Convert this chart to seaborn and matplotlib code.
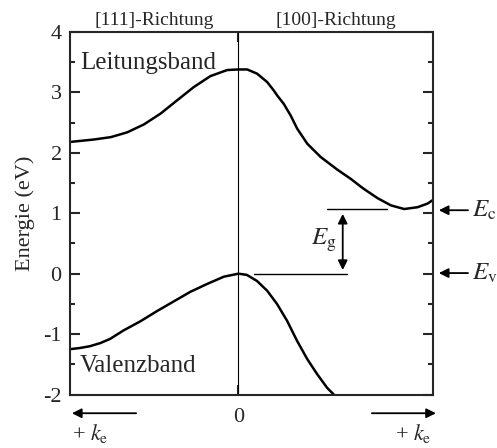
import numpy as np
import pandas as pd
import seaborn as sns
import matplotlib.pyplot as plt
from matplotlib.ticker import MultipleLocator

# band structure (k in units of 2pi/a, [111] negative side)
k_cond = [-0.866, -0.744, -0.656, -0.571, -0.486, -0.400, -0.315, -0.229, -0.144, -0.058, 0.0,
          0.045, 0.096, 0.148, 0.182, 0.199, 0.233, 0.268, 0.302, 0.354, 0.423, 0.509, 0.577,
          0.629, 0.646, 0.715, 0.784, 0.852, 0.921, 0.972, 1.0]
e_cond = [2.18, 2.22, 2.26, 2.34, 2.47, 2.65, 2.87, 3.09, 3.27, 3.37, 3.38,
          3.38, 3.31, 3.17, 3.03, 2.95, 2.81, 2.62, 2.40, 2.15, 1.93, 1.72, 1.57,
          1.44, 1.40, 1.25, 1.13, 1.07, 1.10, 1.16, 1.22]

k_val = [-0.866, -0.814, -0.763, -0.711, -0.660, -0.591, -0.505, -0.419, -0.333, -0.247, -0.161,
         -0.075, 0.0, 0.043, 0.095, 0.147, 0.198, 0.250, 0.301, 0.353, 0.404, 0.456, 0.49]
e_val = [-1.25, -1.23, -1.20, -1.15, -1.08, -0.94, -0.79, -0.62, -0.46, -0.30, -0.17,
         -0.05, 0.0, -0.02, -0.12, -0.28, -0.50, -0.78, -1.11, -1.41, -1.66, -1.89, -2.0]

e_c = 1.07
e_v = 0.0
directions = ["[111]-Richtung", "[100]-Richtung"]
k_edge = [-0.866, 1.0]

sns.set_style("ticks")
plt.rcParams['font.family'] = ['Liberation Serif', 'DejaVu Serif']
plt.rcParams['mathtext.fontset'] = 'stix'
plt.rcParams['axes.unicode_minus'] = False
plt.rcParams['lines.solid_joinstyle'] = 'round'

fig = plt.figure(figsize=(4.97, 4.48), dpi=100)
ax = fig.add_axes([0.1408, 0.1194, 0.7304, 0.8092])

df_c = pd.DataFrame({"k": k_cond, "E": e_cond})
df_v = pd.DataFrame({"k": k_val, "E": e_val})
sns.lineplot(data=df_c, x="k", y="E", sort=False, estimator=None, color="black", lw=1.8, ax=ax)
sns.lineplot(data=df_v, x="k", y="E", sort=False, estimator=None, color="black", lw=1.8, ax=ax)
ax.axvline(0, color="black", lw=0.8)

ax.set_xlim(k_edge[0], k_edge[1])
ax.set_ylim(-2, 4)
ax.set_xlabel("")
ax.set_ylabel("Energie (eV)", fontsize=16, labelpad=6)

for s in ax.spines.values():
    s.set_linewidth(1.5)
ax.set_xticks([0])
ax.set_xticklabels(["0"])
ax.yaxis.set_major_locator(MultipleLocator(1))
ax.yaxis.set_minor_locator(MultipleLocator(0.5))
ax.tick_params(axis="both", which="major", direction="in", length=7, width=1.5,
               labelsize=16, right=True, top=True)
ax.tick_params(axis="y", which="minor", direction="in", length=3.5, width=1.5, right=True)
ax.tick_params(axis="x", pad=10)
ax.tick_params(axis="y", pad=6)

# band labels
ax.text(-0.814, 3.39, "Leitungsband", fontsize=18, va="baseline", ha="left")
ax.text(-0.818, -1.63, "Valenzband", fontsize=18, va="baseline", ha="left")

# direction labels above the axes
trans = ax.get_xaxis_transform()
ax.text(k_edge[0] / 2, 1.02, directions[0], transform=trans, ha="center", va="baseline", fontsize=14)
ax.text(k_edge[1] / 2, 1.02, directions[1], transform=trans, ha="center", va="baseline", fontsize=14)

# band gap markers
ax.plot([0.079, 0.56], [e_v, e_v], color="black", lw=1.0)
ax.plot([0.457, 0.766], [e_c, e_c], color="black", lw=1.0)
ax.annotate("", xy=(0.536, 0.06), xytext=(0.536, 0.99),
            arrowprops=dict(arrowstyle="<|-|>", color="black", lw=1.3, mutation_scale=14,
                            shrinkA=0, shrinkB=0))
ax.text(0.505, 0.55, r"$E_\mathrm{g}$", fontsize=18, ha="right", va="center")

# E_c / E_v arrows on the right
for e, lab in [(1.05, r"$E_\mathrm{c}$"), (0.01, r"$E_\mathrm{v}$")]:
    ax.annotate("", xy=(1.03, e), xytext=(1.18, e), annotation_clip=False,
                arrowprops=dict(arrowstyle="-|>", color="black", lw=1.3, mutation_scale=14,
                                shrinkA=0, shrinkB=0))
    ax.text(1.20, e, lab, fontsize=18, ha="left", va="center", clip_on=False)

# k direction arrows under the axes
ax.annotate("", xy=(-0.856, -2.31), xytext=(-0.526, -2.31), annotation_clip=False,
            arrowprops=dict(arrowstyle="-|>", color="black", lw=1.3, mutation_scale=14,
                            shrinkA=0, shrinkB=0))
ax.annotate("", xy=(1.015, -2.31), xytext=(0.686, -2.31), annotation_clip=False,
            arrowprops=dict(arrowstyle="-|>", color="black", lw=1.3, mutation_scale=14,
                            shrinkA=0, shrinkB=0))
ax.text(-0.856, -2.64, r"+ $k_\mathrm{e}$", fontsize=16, ha="left", va="center", clip_on=False)
ax.text(0.99, -2.64, r"+ $k_\mathrm{e}$", fontsize=16, ha="right", va="center", clip_on=False)

fig.savefig("out.png", dpi=100)
